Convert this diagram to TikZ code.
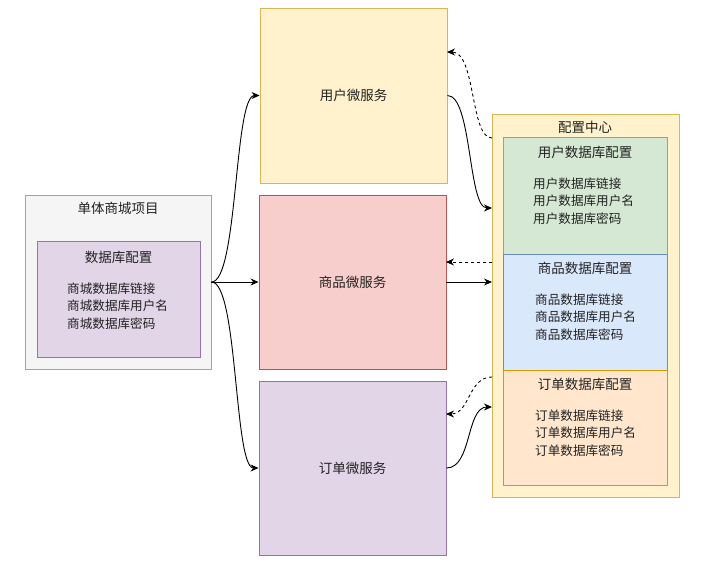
\documentclass[tikz,border=0pt]{standalone}
\usepackage{fontspec}
\setmainfont{Noto Sans CJK SC}
\usetikzlibrary{arrows.meta}

\definecolor{grayfill}{HTML}{F5F5F5}
\definecolor{grayline}{HTML}{666666}
\definecolor{ylwfill}{HTML}{FFF2CC}
\definecolor{ylwline}{HTML}{D6B656}
\definecolor{redfill}{HTML}{F8CECC}
\definecolor{redline}{HTML}{B85450}
\definecolor{purfill}{HTML}{E1D5E7}
\definecolor{purline}{HTML}{9673A6}
\definecolor{grnfill}{HTML}{D5E8D4}
\definecolor{grnline}{HTML}{82B366}
\definecolor{blufill}{HTML}{DAE8FC}
\definecolor{bluline}{HTML}{6C8EBF}
\definecolor{orgfill}{HTML}{FFE6CC}
\definecolor{orgline}{HTML}{D79B00}
\definecolor{txtgray}{HTML}{222222}

\newcommand*{\titlesize}{\fontsize{13.5}{16}\selectfont}
\newcommand*{\listsize}{\fontsize{12.6}{17.5}\selectfont}

\tikzset{
	box/.style={draw, rectangle, inner sep=0pt, line width=0.9pt, text=txtgray},
	title/.style={font=\titlesize, text=txtgray},
	lines/.style={font=\listsize, align=left, anchor=west, text=txtgray, inner sep=0pt},
	link/.style={-{Stealth[length=8pt,width=7pt]}, line width=0.9pt},
	back/.style={link, dash pattern=on 3pt off 3pt},
}

\begin{document}
\begin{tikzpicture}[x=1pt,y=-1pt]

	\useasboundingbox (0,0) rectangle (701,569);
	\fill[white] (0,0) rectangle (701,569);

	% monolith
	\node[box, fill=grayfill, draw=grayline!60, minimum width=186pt, minimum height=174pt] (mono) at (118,282) {};
	\node[title] (monot) at (118,208) {单体商城项目};
	\node[box, fill=purfill, draw=purline, minimum width=163pt, minimum height=116pt] (dbcfg) at (118.5,299) {};
	\node[title] (dbt) at (118.5,257) {数据库配置};
	\node[lines] (dbl) at (67,306) {商城数据库链接\\商城数据库用户名\\商城数据库密码};

	% services
	\node[box, fill=ylwfill, draw=ylwline, minimum width=187pt, minimum height=175pt, font=\titlesize] (user) at (353.5,95.5) {用户微服务};
	\node[box, fill=redfill, draw=redline, minimum width=187pt, minimum height=174pt, font=\titlesize] (goods) at (352.5,282) {商品微服务};
	\node[box, fill=purfill, draw=purline, minimum width=187pt, minimum height=174pt, font=\titlesize] (order) at (352.5,468) {订单微服务};

	% config center
	\node[box, fill=ylwfill, draw=ylwline, minimum width=187pt, minimum height=383pt] (cfg) at (585.5,305.5) {};
	\node[title] (cfgt) at (585,127) {配置中心};

	\node[box, fill=grnfill, draw=grnline, minimum width=164pt, minimum height=117pt] (ucfg) at (585,195.5) {};
	\node[title] (ucfgt) at (585,152) {用户数据库配置};
	\node[lines] (ucfgl) at (533,201) {用户数据库链接\\用户数据库用户名\\用户数据库密码};

	\node[box, fill=blufill, draw=bluline, minimum width=164pt, minimum height=116pt] (gcfg) at (585,312) {};
	\node[title] (gcfgt) at (585,268) {商品数据库配置};
	\node[lines] (gcfgl) at (535,317) {商品数据库链接\\商品数据库用户名\\商品数据库密码};

	\node[box, fill=orgfill, draw=orgline, minimum width=164pt, minimum height=115pt] (ocfg) at (585,427.5) {};
	\node[title] (ocfgt) at (585,384) {订单数据库配置};
	\node[lines] (ocfgl) at (535,433) {订单数据库链接\\订单数据库用户名\\订单数据库密码};

	% ends on the config center
	\coordinate (uin) at (492,208);
	\coordinate (uout) at (492,138);
	\coordinate (uback) at (447,52);
	\coordinate (gout) at (492,262);
	\coordinate (gback) at (446,262);
	\coordinate (gin) at (492,282);
	\coordinate (oout) at (492,377);
	\coordinate (oback) at (446,414);
	\coordinate (oin) at (492,407);

	% split
	\draw[link] (mono.east) .. controls (238,282) and (234,95.5) .. (user.west);
	\draw[link] (mono.east) -- (goods.west);
	\draw[link] (mono.east) .. controls (238,282) and (234,468) .. (order.west);

	% services and config
	\draw[link] (user.east) .. controls (472,95.5) and (468,208) .. (uin);
	\draw[back] (uout) .. controls (470,138) and (476,52) .. (uback);
	\draw[back] (gout) -- (gback);
	\draw[link] (goods.east) -- (gin);
	\draw[back] (oout) .. controls (468,377) and (470,414) .. (oback);
	\draw[link] (order.east) .. controls (472,468) and (466,407) .. (oin);

\end{tikzpicture}
\end{document}
